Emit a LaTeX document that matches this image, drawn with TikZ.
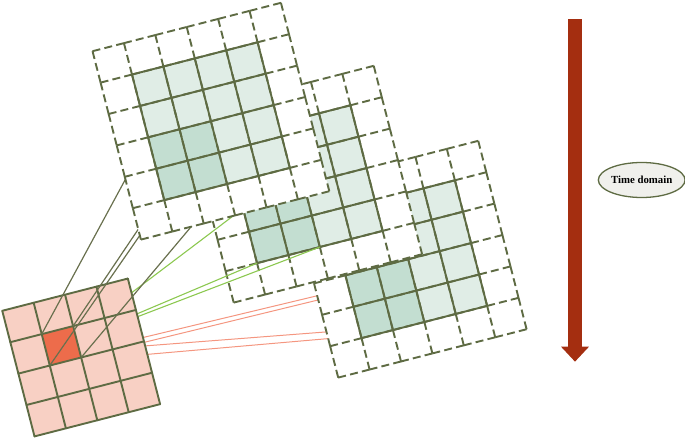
\documentclass[tikz,border=0pt]{standalone}
\usepackage{fontspec}
\setmainfont{Liberation Serif}
\usetikzlibrary{arrows.meta,shapes.geometric}

\definecolor{gridolive}{RGB}{94,107,67}
\definecolor{cellpale}{RGB}{224,237,230}
\definecolor{celldeep}{RGB}{195,222,209}
\definecolor{redpale}{RGB}{248,208,196}
\definecolor{reddeep}{RGB}{237,108,75}
\definecolor{linkgrey}{RGB}{105,112,78}
\definecolor{linkgreen}{RGB}{140,200,80}
\definecolor{linkred}{RGB}{244,150,128}
\definecolor{timered}{RGB}{164,46,16}
\definecolor{bubblefill}{RGB}{240,240,236}

\newcommand{\framecells}{%
  \fill[white] (0,0) -- (6,0) -- (6,6) -- (0,6) -- cycle;
  \fill[cellpale] (1,1) -- (5,1) -- (5,5) -- (1,5) -- cycle;
  \fill[celldeep] (1,1) -- (3,1) -- (3,3) -- (1,3) -- cycle;
  \foreach \k in {0,...,6} {
    \foreach \j in {0,...,5} {
      \draw[dashline] (\k,\j) -- (\k,\j+1);
      \draw[dashline] (\j,\k) -- (\j+1,\k);
    }
  }
  \foreach \k in {1,...,5} {
    \draw[solidline] (\k,1) -- (\k,5);
    \draw[solidline] (1,\k) -- (5,\k);
  }
}

\begin{document}
\begin{tikzpicture}[x=1pt, y=-1pt,
  frameone/.style={shift={(140.9,239.6)}, rotate=14.4, x=32.42pt, y=32.42pt},
  frametwo/.style={shift={(233.7,302.6)}, rotate=14.4, x=32.42pt, y=32.42pt},
  framethree/.style={shift={(338.2,377.6)}, rotate=14.4, x=32.42pt, y=32.42pt},
  framered/.style={shift={(34.5,436.4)}, rotate=14.4, x=32.42pt, y=32.42pt},
  dashline/.style={draw=gridolive, line width=1.9pt, dash pattern=on 8pt off 4.21pt},
  solidline/.style={draw=gridolive, line width=1.9pt, line cap=round},
  greylink/.style={draw=linkgrey, line width=1.2pt},
  greenlink/.style={draw=linkgreen, line width=1.1pt},
  redlink/.style={draw=linkred, line width=1pt},
  timearrow/.style={draw=timered, line width=13.5pt, -{Triangle[width=27pt,length=15pt]}},
  timebubble/.style={ellipse, draw=gridolive, fill=bubblefill, line width=1.3pt,
    minimum width=83pt, minimum height=35pt, inner sep=0pt,
    font=\fontsize{10.8}{12}\selectfont\bfseries}]
  \useasboundingbox (0,0) rectangle (685,438);

  \path[frameone] (1,1) coordinate (g1-sw) (3,1) coordinate (g1-se)
    (1,3) coordinate (g1-nw) (3,3) coordinate (g1-ne);
  \path[frametwo] (1,1) coordinate (g2-sw) (3,1) coordinate (g2-se)
    (1.62,3) coordinate (g2-n);
  \path[framered] (1,2) coordinate (r-sw) (2,2) coordinate (r-se)
    (1,3) coordinate (r-nw) (2,3) coordinate (r-ne) (1.5,2.5) coordinate (r-c);
  \coordinate (r-a) at (61,357.2);
  \coordinate (r-b) at (61,362.6);
  \coordinate (r-d) at (61,352.4);
  \coordinate (r-e) at (61,361.9);
  \coordinate (g3-a) at (323.3,294.3);
  \coordinate (g3-b) at (325,298.3);
  \coordinate (g3-d) at (331.7,331.5);
  \coordinate (g3-e) at (334,338.1);

  \draw[redlink] (r-a) -- (g3-a);
  \draw[redlink] (r-b) -- (g3-b);
  \draw[redlink] (r-d) -- (g3-d);
  \draw[redlink] (r-e) -- (g3-e);

  \begin{scope}[framethree]
    \framecells
  \end{scope}
  \begin{scope}[frametwo]
    \framecells
  \end{scope}

  \draw[greenlink] (r-c) -- (g2-n);
  \draw[greenlink] (r-c) -- (g2-sw);
  \draw[greenlink] (r-c) -- (g2-se);

  \begin{scope}[framered]
    \fill[redpale] (0,0) -- (4,0) -- (4,4) -- (0,4) -- cycle;
    \fill[reddeep] (1,2) -- (2,2) -- (2,3) -- (1,3) -- cycle;
    \foreach \k in {0,...,4} {
      \draw[solidline] (\k,0) -- (\k,4);
      \draw[solidline] (0,\k) -- (4,\k);
    }
  \end{scope}

  \draw[greylink] (r-nw) -- (g1-nw);
  \draw[greylink] (r-sw) -- (g1-sw);
  \draw[greylink] (r-ne) -- (g1-ne);
  \draw[greylink] (r-se) -- (g1-se);

  \begin{scope}[frameone]
    \framecells
  \end{scope}

  \coordinate (time-top) at (575,19.5);
  \coordinate (time-tip) at (575,361.7);
  \draw[timearrow] (time-top) -- (time-tip);
  \node[timebubble] (time-label) at (641.7,180) {Time domain};
\end{tikzpicture}
\end{document}
